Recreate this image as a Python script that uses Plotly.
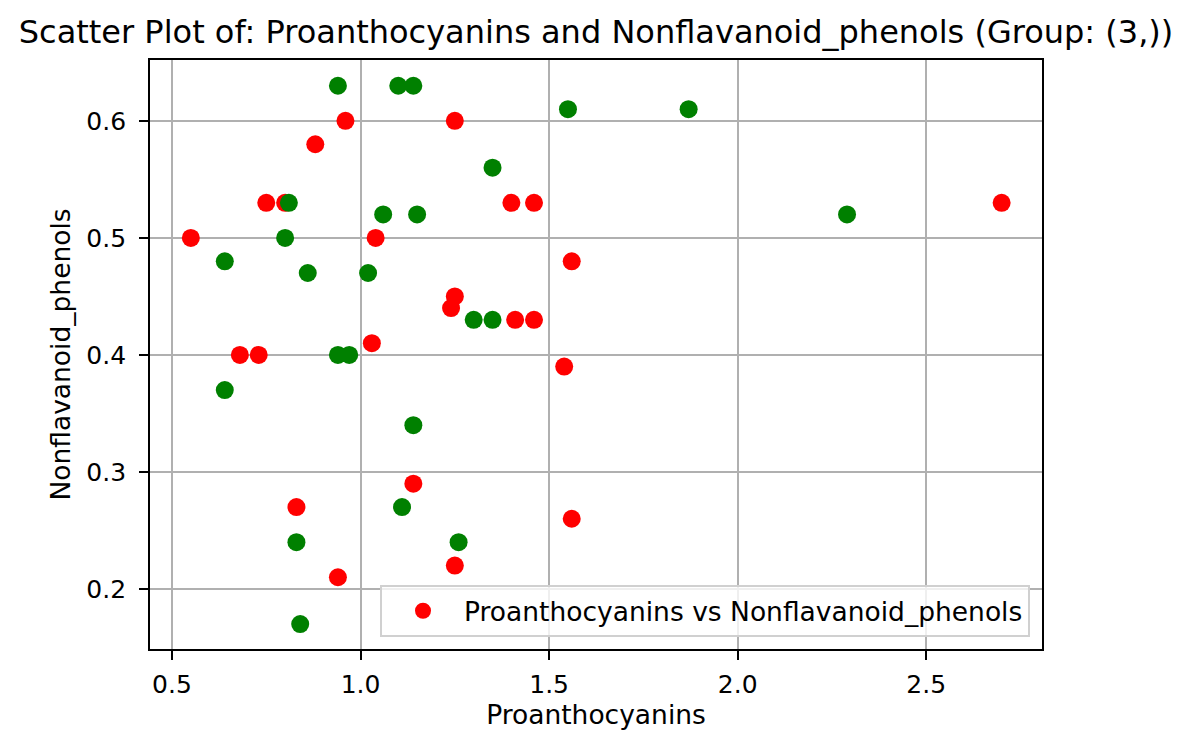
import plotly.graph_objects as go

red_x = [0.96, 1.25, 0.88, 0.75, 0.80, 1.40, 1.46, 2.70, 0.55, 1.04, 1.56, 1.25,
         1.24, 1.41, 1.46, 0.68, 0.73, 1.03, 1.54, 1.14, 0.83, 1.56, 1.25, 0.94]
red_y = [0.60, 0.60, 0.58, 0.53, 0.53, 0.53, 0.53, 0.53, 0.50, 0.50, 0.48, 0.45,
         0.44, 0.43, 0.43, 0.40, 0.40, 0.41, 0.39, 0.29, 0.27, 0.26, 0.22, 0.21]
green_x = [0.94, 1.10, 1.14, 1.55, 1.87, 1.35, 1.06, 1.15, 2.29, 0.81, 0.80, 0.64,
           0.86, 1.02, 1.30, 1.35, 0.94, 0.97, 0.64, 1.14, 1.11, 0.83, 1.26, 0.84]
green_y = [0.63, 0.63, 0.63, 0.61, 0.61, 0.56, 0.52, 0.52, 0.52, 0.53, 0.50, 0.48,
           0.47, 0.47, 0.43, 0.43, 0.40, 0.40, 0.37, 0.34, 0.27, 0.24, 0.24, 0.17]

x_ticks = [0.5, 1.0, 1.5, 2.0, 2.5]
y_ticks = [0.2, 0.3, 0.4, 0.5, 0.6]

fig = go.Figure()
fig.add_trace(go.Scatter(x=red_x, y=red_y, mode="markers",
                         marker=dict(color="red", size=18),
                         name="Proanthocyanins vs Nonflavanoid_phenols",
                         showlegend=True))
fig.add_trace(go.Scatter(x=green_x, y=green_y, mode="markers",
                         marker=dict(color="green", size=18),
                         showlegend=False))

font = "DejaVu Sans"
fig.update_layout(
    width=1191, height=751,
    margin=dict(l=150, r=149, t=60, b=102),
    paper_bgcolor="white", plot_bgcolor="white",
    font=dict(family=font, size=25, color="black"),
    title=dict(text="Scatter Plot of: Proanthocyanins and Nonflavanoid_phenols (Group: (3,))",
               x=0.5, xanchor="center", xref="paper", y=1 - 31.5 / 751, yanchor="middle",
               font=dict(size=32, family=font, color="black")),
    legend=dict(x=1 - 12 / 892, y=12 / 589, xanchor="right", yanchor="bottom",
                bgcolor="rgba(255,255,255,0.8)", bordercolor="#d0d0d0", borderwidth=2,
                itemwidth=72,
                font=dict(size=26.5, family=font, color="black")),
    showlegend=True,
)
fig.update_xaxes(range=[0.4417, 2.807], tickvals=x_ticks,
                 ticktext=[f"{v:.1f}" for v in x_ticks],
                 showgrid=True, gridcolor="#b0b0b0", gridwidth=1.5,
                 showline=True, linecolor="black", linewidth=1.8, mirror=True,
                 ticks="outside", ticklen=9, tickwidth=1.8, tickcolor="black",
                 ticklabelstandoff=3,
                 zeroline=False,
                 title=dict(text="Proanthocyanins", font=dict(size=26.5), standoff=8))
fig.update_yaxes(range=[0.1487, 0.652], tickvals=y_ticks,
                 ticktext=[f"{v:.1f}" for v in y_ticks],
                 showgrid=True, gridcolor="#b0b0b0", gridwidth=1.5,
                 showline=True, linecolor="black", linewidth=1.8, mirror=True,
                 ticks="outside", ticklen=9, tickwidth=1.8, tickcolor="black",
                 ticklabelstandoff=8,
                 zeroline=False,
                 title=dict(text="Nonflavanoid_phenols", font=dict(size=26.5), standoff=8))

fig.write_html("out.html")
